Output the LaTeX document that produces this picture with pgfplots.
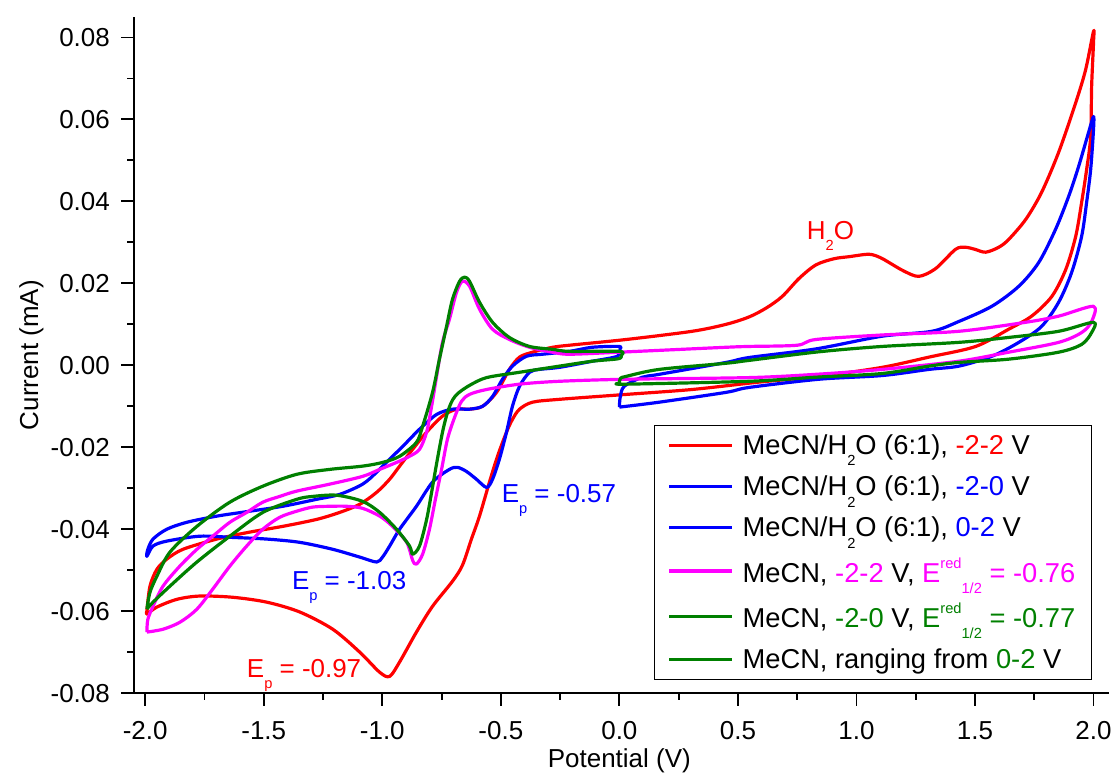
\documentclass[border=0pt]{standalone}
\usepackage{fontspec}
\setmainfont{Liberation Sans}
\usepackage{pgfplots}
\pgfplotsset{compat=1.18}
\definecolor{cred}{RGB}{255,0,0}
\definecolor{cblue}{RGB}{0,0,255}
\definecolor{cmag}{RGB}{255,0,255}
\definecolor{cgreen}{RGB}{0,128,0}
\newcommand{\bigf}{\fontsize{19.5}{23}\selectfont}
\newcommand{\legf}{\fontsize{20.5}{24}\selectfont}
\newcommand{\sub}[1]{\raisebox{-8.5pt}{\fontsize{11}{11}\selectfont #1}}
\newcommand{\sups}[1]{\raisebox{10pt}{\fontsize{11}{11}\selectfont #1}}
\begin{document}
\begin{tikzpicture}
\begin{axis}[
  scale only axis, width=732pt, height=507.75pt,
  xmin=-2.048, xmax=2.064, ymin=-0.08, ymax=0.085,
  axis x line=bottom, axis y line=left,
  axis line style={-, line width=1.4pt},
  xtick={-2,-1.5,-1,-0.5,0,0.5,1,1.5,2},
  ytick={-0.08,-0.06,-0.04,-0.02,0,0.02,0.04,0.06,0.08},
  scaled y ticks=false, scaled x ticks=false,
  minor x tick num=1, minor y tick num=1,
  tick align=outside,
  major tick length=9.5pt, minor tick length=5pt,
  tick style={line width=1.4pt, black},
  xticklabel style={yshift=-8pt, /pgf/number format/fixed, /pgf/number format/fixed zerofill, /pgf/number format/precision=1},
  yticklabel style={xshift=-5pt, /pgf/number format/fixed, /pgf/number format/fixed zerofill, /pgf/number format/precision=2},
  /pgf/number format/assume math mode=true,
  tick label style={font=\bigf},
  xlabel={Potential (V)}, ylabel={Current (mA)},
  label style={font=\bigf},
  xlabel style={at={(axis description cs:0.498,-0.100)}, anchor=center},
  ylabel style={at={(axis description cs:-0.105,0.5)}, anchor=center},
  clip=false,
  every axis plot/.append style={line width=2.4pt, line join=round},
  legend style={at={(axis description cs:0.9826,0.0192)}, anchor=south east, draw=black, line width=0.75pt, font=\legf, inner xsep=10pt, inner ysep=5pt, row sep=10.5pt, column sep=5pt},
  legend cell align=left,
  legend image code/.code={\draw[#1] (0pt,0pt) -- (47pt,0pt);},
]
% MeCN/H2O -2..2 V
\addplot[color=cred, smooth, tension=0.5] coordinates {
(-1.993,-0.0600) (-1.980,-0.0539) (-1.951,-0.0498) (-1.909,-0.0473) (-1.841,-0.0449)
(-1.698,-0.0424) (-1.559,-0.0407) (-1.420,-0.0393) (-1.277,-0.0376) (-1.180,-0.0359)
(-1.095,-0.0339) (-1.024,-0.0310) (-0.969,-0.0278) (-0.927,-0.0246) (-0.872,-0.0205)
(-0.813,-0.0163) (-0.746,-0.0124) (-0.687,-0.0107) (-0.632,-0.0107) (-0.577,-0.0100)
(-0.518,-0.0066) (-0.464,-0.0010) (-0.421,0.0020) (-0.366,0.0032) (-0.282,0.0044)
(-0.211,0.0049) (0.029,0.0063) (0.307,0.0083) (0.450,0.0100) (0.547,0.0118)
(0.620,0.0140) (0.687,0.0168) (0.758,0.0212) (0.829,0.0245) (0.905,0.0260)
(0.968,0.0265) (1.053,0.0271) (1.100,0.0263) (1.137,0.0251) (1.200,0.0230)
(1.263,0.0217) (1.334,0.0236) (1.418,0.0283) (1.460,0.0288) (1.500,0.0283)
(1.545,0.0276) (1.600,0.0288) (1.642,0.0307) (1.714,0.0356) (1.781,0.0422)
(1.853,0.0520) (1.925,0.0641) (1.967,0.0722) (2.000,0.0815) (2.000,0.0788)
(1.992,0.0680) (1.988,0.0558) (1.971,0.0478) (1.950,0.0398) (1.925,0.0315)
(1.883,0.0234) (1.824,0.0168) (1.739,0.0120) (1.642,0.0088) (1.503,0.0046)
(1.306,0.0020) (1.108,-0.0005) (0.842,-0.0027) (0.589,-0.0041) (0.307,-0.0059)
(0.029,-0.0071) (-0.253,-0.0083) (-0.366,-0.0090) (-0.421,-0.0107) (-0.451,-0.0132)
(-0.476,-0.0163) (-0.514,-0.0222) (-0.548,-0.0285) (-0.590,-0.0368) (-0.624,-0.0424)
(-0.662,-0.0488) (-0.704,-0.0527) (-0.788,-0.0588) (-0.856,-0.0651) (-0.927,-0.0724)
(-0.969,-0.0759) (-1.011,-0.0749) (-1.095,-0.0700) (-1.209,-0.0644) (-1.348,-0.0602)
(-1.487,-0.0578) (-1.631,-0.0566) (-1.770,-0.0563) (-1.866,-0.0571) (-1.951,-0.0590)
(-1.993,-0.0607) (-1.993,-0.0600)
};
\addlegendentry{MeCN/H\sub{2}O (6:1), \textcolor{cred}{-2-2} V}
% MeCN/H2O -2..0 V
\addplot[color=cblue, smooth, tension=0.5] coordinates {
(0.000,0.0039) (-0.009,0.0022) (-0.114,0.0010) (-0.253,-0.0005) (-0.337,-0.0010)
(-0.379,-0.0017) (-0.421,-0.0051) (-0.451,-0.0100) (-0.476,-0.0163) (-0.506,-0.0229)
(-0.535,-0.0278) (-0.560,-0.0298) (-0.603,-0.0278) (-0.645,-0.0259) (-0.683,-0.0249)
(-0.717,-0.0254) (-0.788,-0.0285) (-0.856,-0.0344) (-0.927,-0.0400) (-0.969,-0.0441)
(-0.999,-0.0468) (-1.024,-0.0480) (-1.095,-0.0468) (-1.209,-0.0449) (-1.348,-0.0432)
(-1.487,-0.0424) (-1.631,-0.0420) (-1.770,-0.0417) (-1.909,-0.0429) (-1.967,-0.0441)
(-1.993,-0.0466) (-1.989,-0.0449) (-1.967,-0.0424) (-1.909,-0.0400) (-1.824,-0.0383)
(-1.698,-0.0368) (-1.559,-0.0356) (-1.420,-0.0344) (-1.277,-0.0327) (-1.180,-0.0315)
(-1.083,-0.0290) (-1.024,-0.0261) (-0.969,-0.0229) (-0.914,-0.0198) (-0.843,-0.0156)
(-0.771,-0.0120) (-0.704,-0.0107) (-0.632,-0.0107) (-0.577,-0.0100) (-0.535,-0.0076)
(-0.493,-0.0034) (-0.451,-0.0002) (-0.392,0.0022) (-0.324,0.0027) (-0.211,0.0034)
(-0.114,0.0044) (0.000,0.0046) (0.000,0.0039)
};
\addlegendentry{MeCN/H\sub{2}O (6:1), \textcolor{cblue}{-2-0} V}
% MeCN/H2O 0..2 V
\addplot[color=cblue, smooth, tension=0.5] coordinates {
(0.000,-0.0102) (0.004,-0.0076) (0.021,-0.0051) (0.097,-0.0029) (0.168,-0.0022)
(0.450,0.0007) (0.547,0.0019) (0.829,0.0040) (1.108,0.0071) (1.318,0.0083)
(1.432,0.0107) (1.571,0.0144) (1.685,0.0193) (1.769,0.0251) (1.840,0.0332)
(1.895,0.0412) (1.937,0.0485) (1.979,0.0568) (2.000,0.0607) (2.000,0.0576)
(1.988,0.0478) (1.971,0.0398) (1.950,0.0315) (1.908,0.0227) (1.853,0.0154)
(1.781,0.0095) (1.685,0.0056) (1.571,0.0022) (1.432,-0.0002) (1.306,-0.0010)
(1.108,-0.0025) (0.842,-0.0034) (0.547,-0.0054) (0.450,-0.0066) (0.168,-0.0090)
(0.000,-0.0102)
};
\addlegendentry{MeCN/H\sub{2}O (6:1), \textcolor{cblue}{0-2} V}
% MeCN -2..2 V
\addplot[color=cmag, smooth, tension=0.5] coordinates {
(-1.993,-0.0651) (-1.989,-0.0620) (-1.967,-0.0588) (-1.925,-0.0539) (-1.854,-0.0490)
(-1.782,-0.0449) (-1.715,-0.0417) (-1.643,-0.0383) (-1.572,-0.0359) (-1.504,-0.0334)
(-1.433,-0.0320) (-1.361,-0.0307) (-1.222,-0.0290) (-1.083,-0.0271) (-1.011,-0.0254)
(-0.940,-0.0237) (-0.885,-0.0222) (-0.843,-0.0205) (-0.813,-0.0163) (-0.792,-0.0100)
(-0.771,-0.0027) (-0.746,0.0056) (-0.717,0.0112) (-0.687,0.0178) (-0.662,0.0205)
(-0.632,0.0193) (-0.590,0.0137) (-0.535,0.0088) (-0.464,0.0063) (-0.379,0.0044)
(-0.282,0.0032) (-0.211,0.0027) (0.000,0.0032) (0.450,0.0044) (0.547,0.0046)
(0.750,0.0049) (0.829,0.0063) (1.108,0.0074) (1.432,0.0083) (1.714,0.0105)
(1.853,0.0120) (2.000,0.0144) (1.992,0.0107) (1.950,0.0080) (1.853,0.0056)
(1.642,0.0032) (1.432,0.0010) (1.108,-0.0010) (0.829,-0.0022) (0.547,-0.0030)
(0.028,-0.0034) (-0.253,-0.0039) (-0.421,-0.0046) (-0.560,-0.0059) (-0.632,-0.0071)
(-0.666,-0.0088) (-0.695,-0.0127) (-0.725,-0.0180) (-0.750,-0.0254) (-0.776,-0.0327)
(-0.801,-0.0400) (-0.830,-0.0461) (-0.856,-0.0485) (-0.872,-0.0476) (-0.897,-0.0432)
(-0.957,-0.0393) (-1.011,-0.0368) (-1.083,-0.0349) (-1.150,-0.0344) (-1.222,-0.0344)
(-1.294,-0.0346) (-1.361,-0.0356) (-1.433,-0.0371) (-1.504,-0.0400) (-1.572,-0.0441)
(-1.643,-0.0490) (-1.715,-0.0546) (-1.782,-0.0595) (-1.854,-0.0627) (-1.925,-0.0644)
(-1.993,-0.0651)
};
\addlegendentry{MeCN, \textcolor{cmag}{-2-2} V, \textcolor{cmag}{E\sups{red}\sub{1/2} = -0.76}}
% MeCN -2..0 V
\addplot[color=cgreen, smooth, tension=0.5] coordinates {
(-1.993,-0.0595) (-1.980,-0.0554) (-1.951,-0.0515) (-1.896,-0.0456) (-1.782,-0.0393)
(-1.643,-0.0334) (-1.504,-0.0295) (-1.361,-0.0266) (-1.222,-0.0254) (-1.083,-0.0246)
(-0.999,-0.0237) (-0.927,-0.0222) (-0.856,-0.0188) (-0.830,-0.0149) (-0.788,-0.0066)
(-0.759,0.0015) (-0.729,0.0095) (-0.704,0.0161) (-0.674,0.0205) (-0.653,0.0215)
(-0.632,0.0205) (-0.590,0.0154) (-0.535,0.0105) (-0.464,0.0068) (-0.379,0.0046)
(-0.282,0.0039) (-0.211,0.0034) (0.000,0.0034) (0.008,0.0024) (-0.005,0.0016)
(-0.114,0.0010) (-0.253,-0.0002) (-0.421,-0.0017) (-0.560,-0.0030) (-0.632,-0.0049)
(-0.680,-0.0068) (-0.704,-0.0085) (-0.725,-0.0115) (-0.746,-0.0163) (-0.771,-0.0240)
(-0.792,-0.0310) (-0.813,-0.0376) (-0.843,-0.0441) (-0.872,-0.0461) (-0.885,-0.0441)
(-0.940,-0.0400) (-1.011,-0.0359) (-1.083,-0.0332) (-1.193,-0.0317) (-1.294,-0.0320)
(-1.361,-0.0327) (-1.504,-0.0359) (-1.643,-0.0417) (-1.782,-0.0480) (-1.896,-0.0539)
(-1.967,-0.0578) (-1.993,-0.0595)
};
\addlegendentry{MeCN, \textcolor{cgreen}{-2-0} V, \textcolor{cgreen}{E\sups{red}\sub{1/2} = -0.77}}
% MeCN 0..2 V
\addplot[color=cgreen, smooth, tension=0.5] coordinates {
(0.000,-0.0044) (0.004,-0.0032) (0.029,-0.0027) (0.168,-0.0010) (0.450,0.0005)
(0.547,0.0012) (0.842,0.0033) (1.108,0.0046) (1.432,0.0056) (1.642,0.0068)
(1.853,0.0083) (2.000,0.0105) (1.992,0.0080) (1.950,0.0051) (1.853,0.0032)
(1.642,0.0015) (1.432,0.0007) (1.306,-0.0002) (1.108,-0.0020) (0.829,-0.0029)
(0.547,-0.0039) (0.029,-0.0046) (0.000,-0.0044)
};
\addlegendentry{MeCN, ranging from \textcolor{cgreen}{0-2} V}
\node[anchor=base west, inner sep=0pt, text=cred, font=\bigf] at (axis cs:-1.572,-0.0761) {E\sub{p} = -0.97};
\node[anchor=base west, inner sep=0pt, text=cblue, font=\bigf] at (axis cs:-1.382,-0.0546) {E\sub{p} = -1.03};
\node[anchor=base west, inner sep=0pt, text=cblue, font=\bigf] at (axis cs:-0.497,-0.0334) {E\sub{p} = -0.57};
\node[anchor=base west, inner sep=0pt, text=cred, font=\bigf] at (axis cs:0.79,0.0307) {H\sub{2}O};
\path (axis description cs:-0.1373,-0.1108) rectangle (axis description cs:1.0061,1.0251);
\end{axis}
\end{tikzpicture}
\end{document}
